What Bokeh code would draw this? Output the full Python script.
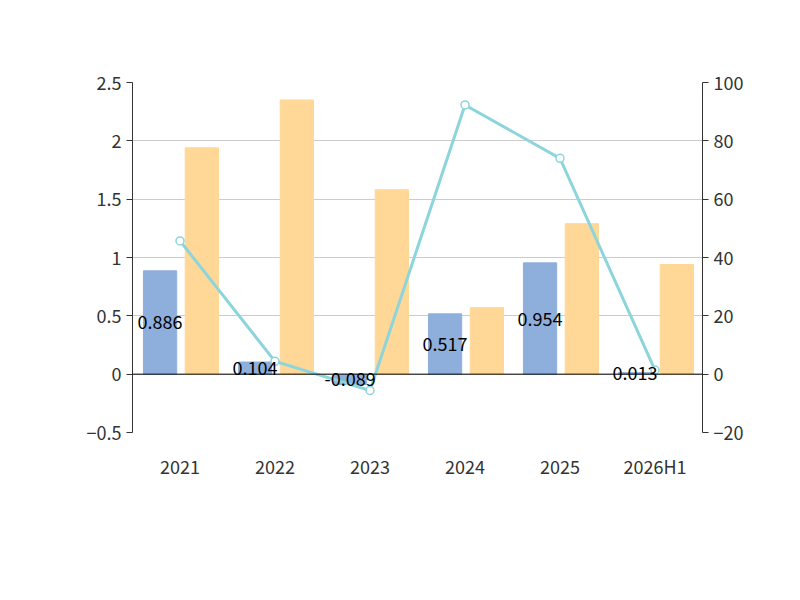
from bokeh.plotting import figure
from bokeh.models import Range1d, LinearAxis, Legend, LegendItem, ColumnDataSource, Label, FixedTicker, Span
from bokeh.transform import dodge
from bokeh.embed import file_html
from bokeh.resources import INLINE
from bokeh.core.properties import value

cats = ["2021", "2022", "2023", "2024", "2025", "2026H1"]
cash = [0.886, 0.104, -0.089, 0.517, 0.954, 0.013]
profit = [1.94, 2.35, 1.58, 0.57, 1.29, 0.94]
ratio = [45.7, 4.4, -5.6, 92.3, 74.0, 1.4]
cash_labels = ["0.886", "0.104", "-0.089", "0.517", "0.954", "0.013"]

F = "Noto Sans CJK SC"
src = ColumnDataSource(dict(c=cats, cash=cash, profit=profit, ratio=ratio,
                            lab=cash_labels, half=[v / 2 for v in cash]))

p = figure(x_range=cats, y_range=Range1d(-0.5, 2.5), width=784, height=584,
           output_backend="svg", toolbar_location=None,
           min_border_left=132, min_border_right=82, min_border_top=82, min_border_bottom=152)
p.outline_line_color = None
p.extra_y_ranges = {"r": Range1d(-20, 100)}

b1 = p.vbar(x=dodge("c", -0.21, range=p.x_range), top="cash", width=0.35, source=src, color="#8eaedb")
b2 = p.vbar(x=dodge("c", 0.23, range=p.x_range), top="profit", width=0.35, source=src, color="#ffd797")
p.add_layout(Span(location=0, dimension="width", line_color="black", line_width=1))
ln = p.line(x="c", y="ratio", source=src, y_range_name="r", color="#8dd5dc", line_width=3)
sc = p.scatter(x="c", y="ratio", source=src, y_range_name="r", size=8, fill_color="white",
               line_color="#8dd5dc", line_width=1.5)
p.text(x=dodge("c", -0.21, range=p.x_range), y="half", text="lab", source=src,
       text_align="center", text_baseline="middle", text_font=value(F), text_font_size="18px", text_color="black")

p.yaxis.ticker = FixedTicker(ticks=[-0.5, 0, 0.5, 1, 1.5, 2, 2.5])
ra = LinearAxis(y_range_name="r", ticker=FixedTicker(ticks=[-20, 0, 20, 40, 60, 80, 100]))
p.add_layout(ra, "right")
for ax in [p.yaxis[0], ra]:
    ax.major_label_text_font = F
    ax.major_label_text_font_size = "18px"
    ax.major_label_text_color = "#333333"
    ax.axis_line_color = "#333333"
    ax.major_tick_line_color = "#333333"
    ax.minor_tick_line_color = None
    ax.major_tick_in = 0
    ax.major_tick_out = 6
p.xaxis.axis_line_color = None
p.xaxis.major_tick_line_color = None
p.xaxis.major_label_text_font = F
p.xaxis.major_label_text_font_size = "18px"
p.xaxis.major_label_text_color = "#333333"
p.xaxis.major_label_standoff = 14
p.xgrid.grid_line_color = None
p.ygrid.grid_line_color = "#cccccc"

leg = Legend(items=[LegendItem(label="经营活动现金流净额", renderers=[b1]),
                    LegendItem(label="归母净利润", renderers=[b2]),
                    LegendItem(label="净现比", renderers=[ln, sc])],
             orientation="horizontal", location=(-65, -125), label_text_font=F,
             label_text_font_size="20px", label_text_color="#333333", border_line_color=None,
             background_fill_alpha=0, glyph_width=48, glyph_height=26, spacing=30)
p.add_layout(leg, "center")

p.add_layout(Label(x=3.0, y=3.08, text="历年经营现金净额、归母净利润情况", text_align="center",
                   text_baseline="middle", text_font=F, text_font_size="24px",
                   text_font_style="bold", text_color="#333333"))
p.add_layout(Label(x=3.0, y=-1.95, text="制图数据来自恒生聚源数据库", text_align="center",
                   text_baseline="middle", text_font=F, text_font_size="15px", text_color="#d4a017"))
p.add_layout(Label(x=-0.52, y=2.27, text="(亿元)", angle=1.5708, text_align="center",
                   text_baseline="middle", text_color="red", text_font=F, text_font_size="15px"))
p.add_layout(Label(x=6.8, y=2.43, text="%", text_align="center", text_baseline="middle",
                   text_color="red", text_font=F, text_font_size="15px"))

open("out.html", "w").write(file_html(p, INLINE))
